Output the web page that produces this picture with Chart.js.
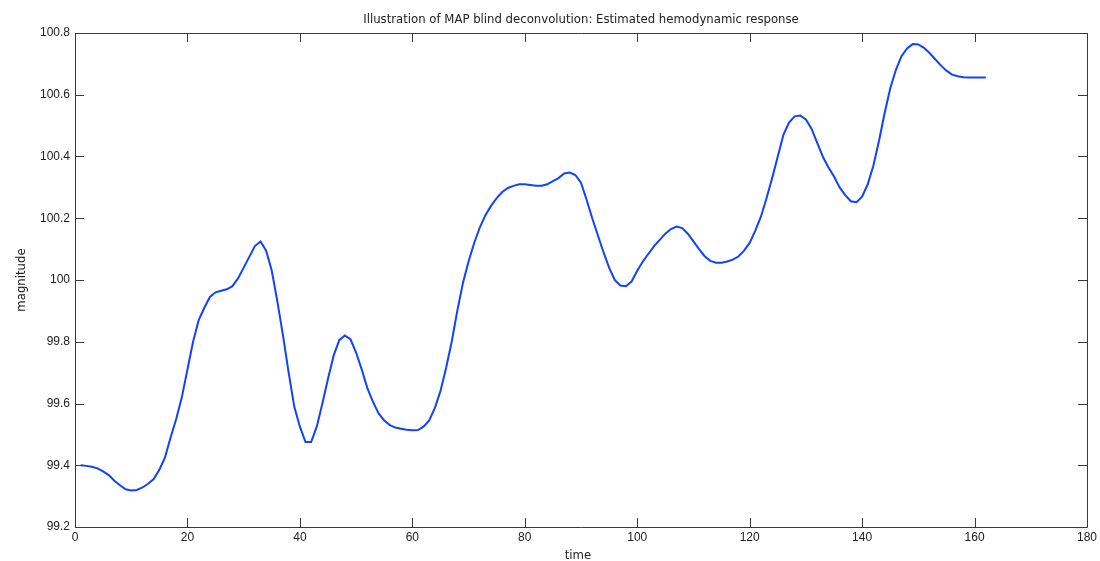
<!DOCTYPE html>
<html>
<head>
<meta charset="utf-8">
<title>MAP blind deconvolution</title>
<script src="https://cdn.jsdelivr.net/npm/chart.js@4.4.1/dist/chart.umd.min.js"></script>
<style>
  html, body { margin: 0; padding: 0; background: #fff; }
  canvas { display: block; }
</style>
</head>
<body>
<canvas id="hrf" width="1100" height="561"></canvas>
<script>
// ── data ─────────────────────────────────────────────────────────
const TITLE   = 'Illustration of MAP blind deconvolution: Estimated hemodynamic response';
const X_LABEL = 'time';
const Y_LABEL = 'magnitude';

// sample index 1..162
const times = Array.from({ length: 162 }, (_, i) => i + 1);

const magnitude = [
  99.400, 99.398, 99.395, 99.390, 99.380, 99.368, 99.350, 99.335, 99.322, 99.318,
  99.320, 99.328, 99.340, 99.355, 99.385, 99.425, 99.490, 99.550, 99.620, 99.710,
  99.800, 99.870, 99.910, 99.945, 99.960, 99.965, 99.970, 99.980, 100.005, 100.040,
  100.075, 100.110, 100.125, 100.095, 100.030, 99.930, 99.820, 99.700, 99.590, 99.525,
  99.475, 99.475, 99.525, 99.600, 99.680, 99.755, 99.805, 99.820, 99.808, 99.765,
  99.710, 99.650, 99.605, 99.568, 99.545, 99.530, 99.522, 99.518, 99.515, 99.513,
  99.514, 99.525, 99.545, 99.585, 99.640, 99.715, 99.800, 99.900, 99.990, 100.060,
  100.120, 100.170, 100.210, 100.240, 100.265, 100.285, 100.298, 100.305, 100.310, 100.310,
  100.308, 100.305, 100.305, 100.310, 100.320, 100.330, 100.345, 100.348, 100.340, 100.315,
  100.260, 100.200, 100.145, 100.090, 100.040, 100.000, 99.982, 99.980, 99.995, 100.030,
  100.060, 100.085, 100.110, 100.130, 100.150, 100.165, 100.173, 100.168, 100.150, 100.125,
  100.100, 100.077, 100.062, 100.056, 100.056, 100.060, 100.066, 100.076, 100.095, 100.120,
  100.160, 100.205, 100.265, 100.330, 100.400, 100.470, 100.510, 100.530, 100.533, 100.520,
  100.490, 100.445, 100.400, 100.365, 100.335, 100.300, 100.275, 100.255, 100.252, 100.270,
  100.310, 100.370, 100.450, 100.540, 100.620, 100.680, 100.725, 100.750, 100.764, 100.763,
  100.752, 100.735, 100.715, 100.695, 100.678, 100.665, 100.660, 100.657, 100.656, 100.656,
  100.656, 100.656
];

const xTicks = [0, 20, 40, 60, 80, 100, 120, 140, 160, 180];
const yTicks = [99.2, 99.4, 99.6, 99.8, 100, 100.2, 100.4, 100.6, 100.8];

const LINE_COL = '#1440ff';
const AXIS_COL = '#3a3a3a';
const TEXT_FONT = '"Liberation Sans Narrow", "DejaVu Sans Condensed", "Liberation Sans", sans-serif';
const TICK_FONT = { family: '"Liberation Sans", Arial, sans-serif', size: 12 };

// ── box, inward tick marks and labels ────────────────────────────
const axesBox = {
  id: 'axesBox',
  afterDraw(chart) {
    const { ctx, chartArea: a, scales } = chart;
    const len = 9;
    ctx.save();
    ctx.strokeStyle = AXIS_COL;
    ctx.lineWidth = 1;
    ctx.beginPath();
    ctx.rect(Math.round(a.left) + 0.5, Math.round(a.top) + 0.5,
             Math.round(a.right - a.left), Math.round(a.bottom - a.top));
    xTicks.forEach(v => {
      const px = Math.round(scales.x.getPixelForValue(v)) + 0.5;
      ctx.moveTo(px, a.bottom); ctx.lineTo(px, a.bottom - len);
      ctx.moveTo(px, a.top);    ctx.lineTo(px, a.top + len);
    });
    yTicks.forEach(v => {
      const py = Math.round(scales.y.getPixelForValue(v)) + 0.5;
      ctx.moveTo(a.left, py);  ctx.lineTo(a.left + len, py);
      ctx.moveTo(a.right, py); ctx.lineTo(a.right - len, py);
    });
    ctx.stroke();

    ctx.fillStyle = '#222';
    ctx.font = '13px ' + TEXT_FONT;
    ctx.textAlign = 'center';
    ctx.textBaseline = 'alphabetic';
    const cx = (a.left + a.right) / 2;
    ctx.fillText(TITLE, cx, a.top - 10);
    ctx.fillText(X_LABEL, cx - 3, a.bottom + 32);
    ctx.translate(25, (a.top + a.bottom) / 2);
    ctx.rotate(-Math.PI / 2);
    ctx.fillText(Y_LABEL, 0, 0);
    ctx.restore();
  }
};

new Chart(document.getElementById('hrf'), {
  type: 'line',
  data: {
    datasets: [{
      data: times.map((t, i) => ({ x: t, y: magnitude[i] })),
      borderColor: LINE_COL,
      borderWidth: 2,
      pointRadius: 0,
      tension: 0,
      fill: false,
    }],
  },
  options: {
    responsive: false,
    animation: false,
    devicePixelRatio: 1,
    layout: { padding: { top: 33, right: 13, left: 0, bottom: 0 } },
    plugins: { legend: { display: false }, tooltip: { enabled: false } },
    scales: {
      x: {
        type: 'linear', min: 0, max: 180,
        afterBuildTicks: s => { s.ticks = xTicks.map(v => ({ value: v })); },
        afterFit: s => { s.height = 34; },
        grid: { display: false, drawTicks: false },
        border: { display: false },
        ticks: { font: TICK_FONT, color: '#222', padding: 3, maxRotation: 0 },
      },
      y: {
        min: 99.2, max: 100.8,
        afterBuildTicks: s => { s.ticks = yTicks.map(v => ({ value: v })); },
        afterFit: s => { s.width = 75; },
        grid: { display: false, drawTicks: false },
        border: { display: false },
        ticks: { font: TICK_FONT, color: '#222', padding: 5, callback: v => String(+v.toFixed(1)) },
      },
    },
  },
  plugins: [axesBox],
});
</script>
</body>
</html>
